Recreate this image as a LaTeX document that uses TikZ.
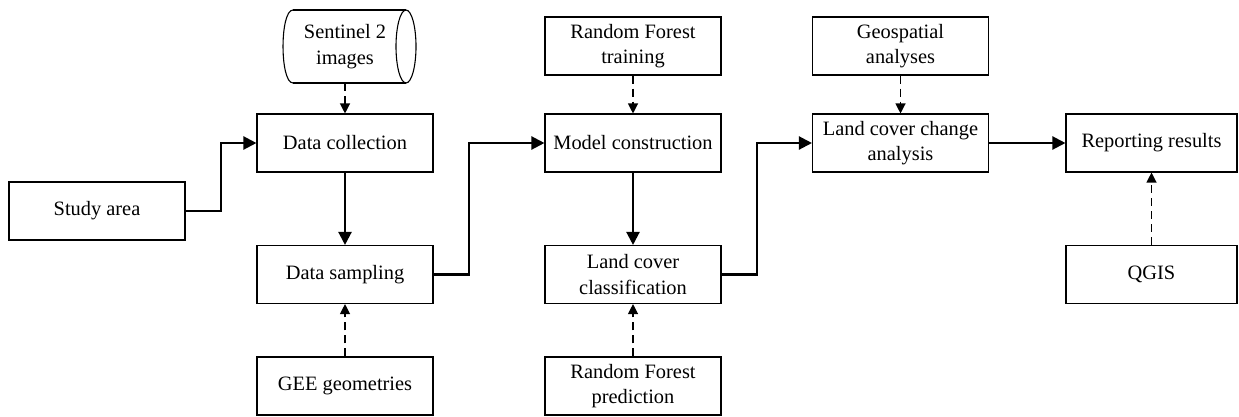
\documentclass[tikz,border=0pt]{standalone}
\usepackage{fontspec}
\setmainfont{Liberation Serif}
\usetikzlibrary{arrows.meta}
\begin{document}
\begin{tikzpicture}[x=1pt,y=-1pt,
  box/.style={draw, line width=1.1pt, minimum width=176pt, minimum height=58pt, inner sep=2pt, align=center, font=\fontsize{20.4}{25.5}\selectfont},
  flow/.style={line width=2.2pt, -{Triangle[length=13pt,width=13pt]}},
  aux/.style={line width=1.2pt, dash pattern=on 8pt off 5pt, -{Triangle[length=10pt,width=10pt]}}]
\useasboundingbox (0,0) rectangle (1239,416);
% cylinder
\draw[line width=1.1pt] (293,10) -- (406,10);
\draw[line width=1.1pt] (293,83) -- (406,83);
\draw[line width=1.1pt] (406,46.5) ellipse [x radius=10, y radius=36.5];
\draw[line width=1.1pt] (293,10) .. controls (279.7,10) and (279.7,83) .. (293,83);
\node[align=center, font=\fontsize{20.4}{25.5}\selectfont, minimum height=73pt, inner sep=0pt] (cyl) at (345,46.5) {Sentinel 2\\images};

\node[box] (study) at (97,211) {Study area};
\node[box] (dc) at (345,143) {Data collection};
\node[box] (ds) at (345,274.5) {Data sampling};
\node[box] (gee) at (345,386) {GEE geometries};
\node[box] (rft) at (633,46) {Random Forest\\training};
\node[box] (model) at (633,143) {Model construction};
\node[box] (lcc) at (633,274.5) {Land cover\\classification};
\node[box] (rfp) at (633,386) {Random Forest\\prediction};
\node[box] (geo) at (900.5,46) {Geospatial\\analyses};
\node[box] (lcca) at (900.5,143) {Land cover change\\analysis};
\node[box, minimum width=171pt] (rep) at (1151.5,143) {Reporting results};
\node[box, minimum width=171pt] (qgis) at (1151.5,274.5) {QGIS};

\draw[flow] (study.east) -- (221,211) |- (dc.west);
\draw[flow] (dc) -- (ds);
\draw[flow] (ds.east) -- (469,274.5) |- (model.west);
\draw[flow] (model) -- (lcc);
\draw[flow] (lcc.east) -- (757,274.5) |- (lcca.west);
\draw[flow] (lcca) -- (rep);

\draw[aux] (cyl.south) -- (dc.north);
\draw[aux] (gee) -- (ds);
\draw[aux] (rft) -- (model);
\draw[aux] (rfp) -- (lcc);
\draw[aux] (geo) -- (lcca);
\draw[aux] (qgis) -- (rep);
\end{tikzpicture}
\end{document}
